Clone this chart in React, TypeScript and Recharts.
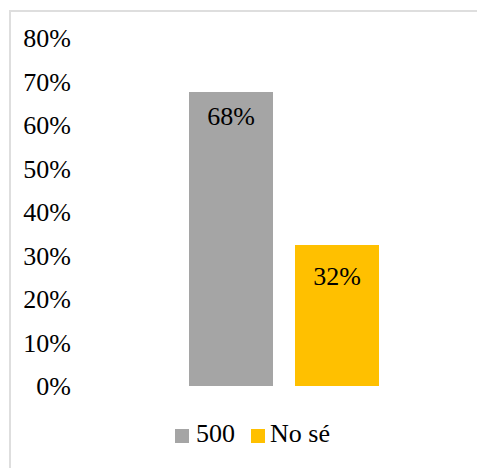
import { Bar, BarChart, LabelList, Legend, XAxis, YAxis } from "recharts";

const categories = [""];
const seriesNames = ["500", "No sé"];
const values500 = [67.6];
const valuesNoSe = [32.4];
const yTicks = [0, 10, 20, 30, 40, 50, 60, 70, 80];

const colors = ["#a5a5a5", "#ffc000"];
const font = '"Liberation Serif", "Times New Roman", serif';

const data = categories.map((c, i) => ({
  name: c,
  s0: values500[i],
  s1: valuesNoSe[i],
}));

const pct = (v: number) => `${Math.round(v)}%`;

function LegendContent() {
  return (
    <div
      style={{
        display: "flex",
        alignItems: "center",
        height: 30,
        lineHeight: "30px",
        fontFamily: font,
        fontSize: 26,
        color: "#000",
        whiteSpace: "nowrap",
      }}
    >
      {seriesNames.map((n, i) => (
        <span key={n} style={{ display: "flex", alignItems: "center", marginRight: i === 0 ? 16 : 0 }}>
          <span
            style={{
              display: "inline-block",
              width: 14,
              height: 14,
              background: colors[i],
              marginRight: i === 0 ? 7 : 5,
              position: "relative",
              top: 2,
            }}
          />
          {n}
        </span>
      ))}
    </div>
  );
}

export default function App() {
  return (
    <div
      style={{
        position: "fixed",
        left: 0,
        top: 0,
        width: 477,
        height: 468,
        overflow: "hidden",
        background: "#fff",
      }}
    >
      <div
        style={{
          position: "absolute",
          left: 9,
          top: 10,
          width: 520,
          height: 520,
          borderTop: "2px solid #dedede",
          borderLeft: "2px solid #dedede",
        }}
      />
      <div style={{ position: "absolute", left: 0, top: 0 }}>
        <BarChart
          width={477}
          height={468}
          data={data}
          margin={{ top: 38, right: 0, bottom: 82, left: 0 }}
          barSize={84}
          barGap={22}
        >
          <XAxis dataKey="name" hide />
          <YAxis
            domain={[0, 80]}
            ticks={yTicks}
            width={91}
            axisLine={false}
            tickLine={false}
            tickSize={0}
            tickMargin={20}
            interval={0}
            tickFormatter={(v) => `${v}%`}
            tick={{ fill: "#000", fontSize: 26, fontFamily: font }}
          />
          <Legend
            verticalAlign="middle"
            align="center"
            layout="horizontal"
            wrapperStyle={{ top: 419, left: 175, width: 300, height: 30 }}
            content={() => <LegendContent />}
          />
          <Bar dataKey="s0" name={seriesNames[0]} fill={colors[0]} isAnimationActive={false}>
            <LabelList
              dataKey="s0"
              position="insideTop"
              offset={15}
              formatter={pct}
              style={{ fill: "#000", fontSize: 26, fontFamily: font }}
            />
          </Bar>
          <Bar dataKey="s1" name={seriesNames[1]} fill={colors[1]} isAnimationActive={false}>
            <LabelList
              dataKey="s1"
              position="insideTop"
              offset={21}
              formatter={pct}
              style={{ fill: "#000", fontSize: 26, fontFamily: font }}
            />
          </Bar>
        </BarChart>
      </div>
    </div>
  );
}
